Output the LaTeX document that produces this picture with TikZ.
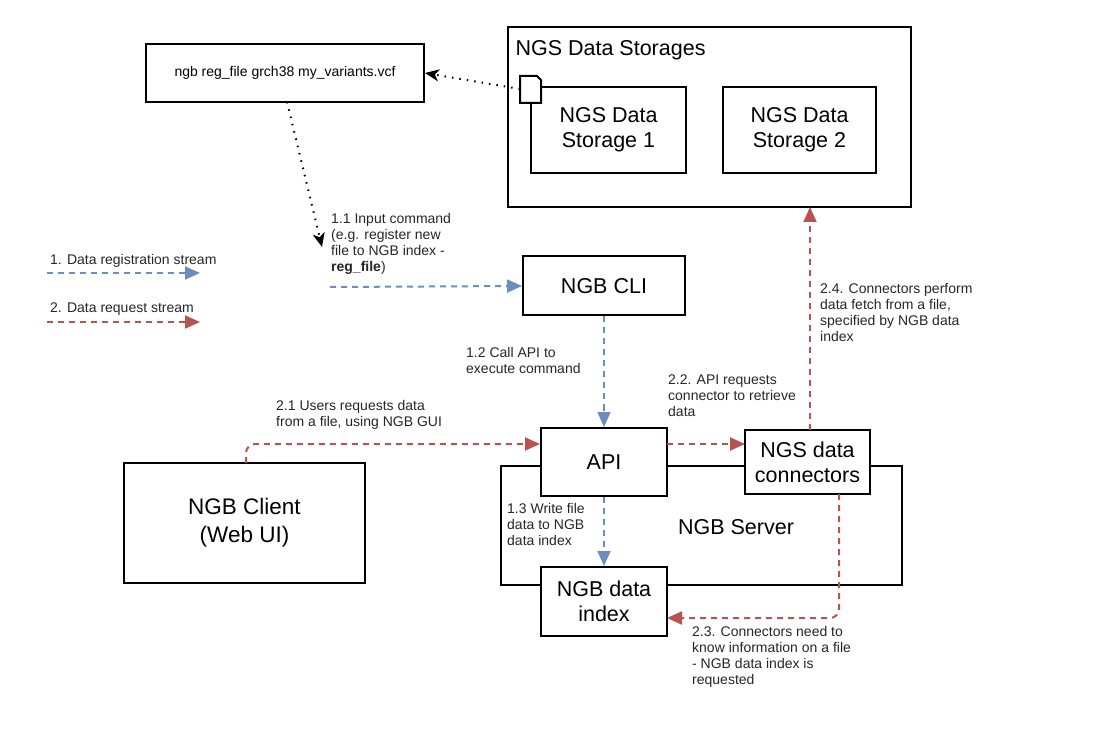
\documentclass[tikz,border=0pt]{standalone}
\usepackage{fontspec}
\setmainfont{Liberation Sans}
\usetikzlibrary{arrows.meta}
\definecolor{bl}{HTML}{6C8EBF}
\definecolor{rd}{HTML}{B85450}
\begin{document}
\begin{tikzpicture}[x=1pt,y=-1pt,
 box/.style={draw,line width=2pt,fill=white,align=center,font=\fontsize{21.5}{25}\selectfont},
 lbl/.style={align=left,font=\fontsize{14}{16}\selectfont,text=black!85,inner sep=0pt},
 bla/.style={bl,line width=2pt,dash pattern=on 6pt off 5pt,-{Triangle[length=15pt,width=13pt]}},
 rda/.style={rd,line width=2pt,dash pattern=on 6pt off 5pt,-{Triangle[length=15pt,width=13pt]}},
 dta/.style={black,line width=2pt,dash pattern=on 1.5pt off 6pt,-{Stealth[length=14pt,width=12pt,inset=4pt]}}]
\useasboundingbox (0,0) rectangle (1109,735);
% server outer
\draw[line width=2pt] (501,466) rectangle (902,585);
\node[font=\fontsize{21.5}{25}\selectfont] (srv) at (736,527) {NGB Server};
% storages
\draw[line width=2pt] (508,27) rectangle (911,207);
\node[anchor=west,font=\fontsize{21.5}{25}\selectfont] (stt) at (512,50) {NGS Data Storages};
\node[box,minimum width=155pt,minimum height=86pt] (s1) at (608.5,130) {NGS Data\\Storage 1};
\node[box,minimum width=153pt,minimum height=86pt] (s2) at (799.5,130) {NGS Data\\Storage 2};
\draw[line width=2pt,fill=white] (520,76) -- (537,76) -- (541,80) -- (541,103) -- (520,103) -- cycle;
\coordinate (fic) at (520,89);
\node[box,minimum width=278pt,minimum height=58pt,font=\fontsize{14}{16}\selectfont] (cmd) at (285,73) {ngb reg\_file grch38 my\_variants.vcf};
\node[box,minimum width=162pt,minimum height=59pt] (cli) at (604,286) {NGB CLI};
\node[box,minimum width=126pt,minimum height=68pt] (api) at (604,462) {API};
\node[box,minimum width=125pt,minimum height=64pt] (con) at (807.5,462) {NGS data\\connectors};
\node[box,minimum width=126pt,minimum height=69pt] (idx) at (604,601.5) {NGB data\\index};
\node[box,minimum width=241pt,minimum height=120pt,font=\fontsize{22.5}{28}\selectfont] (cl) at (244.5,523) {NGB Client\\(Web UI)};
% connectors
\draw[dta] (fic) -- (cmd.east);
\coordinate (c1) at (322,247);
\draw[dta] (287,102) -- (c1);
\coordinate (c2) at (330,287);
\draw[bla] (c2) -- (cli.west);
\draw[bla] (cli.south) -- (api.north);
\draw[bla] (api.south) -- (idx.north);
\draw[rda,rounded corners=9pt] (246,463) -- (246,444) -- (api.west |- 0,444);
\draw[rda] (667,444) -- (745,444);
\draw[rda] (810,430) -- (810,207);
\draw[rda,rounded corners=9pt] (839,494) -- (839,618) -- (667,618);
% legend
\coordinate (l1a) at (47,273); \coordinate (l1b) at (200,273);
\coordinate (l2a) at (47,322); \coordinate (l2b) at (200,322);
\draw[bla] (l1a) -- (l1b);
\draw[rda] (l2a) -- (l2b);
\node[lbl,anchor=south west] (t1) at (50,268) {1. Data registration stream};
\node[lbl,anchor=south west] (t2) at (50,316) {2. Data request stream};
% labels
\node[lbl,anchor=north west] (a) at (331,213) {1.1 Input command\\(e.g. register new\\file to NGB index -\\\textbf{reg\_file})};
\node[lbl,anchor=north west] (b) at (466,347) {1.2 Call API to\\execute command};
\node[lbl,anchor=north west] (c) at (276,400) {2.1 Users requests data\\from a file, using NGB GUI};
\node[lbl,anchor=north west] (d) at (668,375) {2.2. API requests\\connector to retrieve\\data};
\node[lbl,anchor=north west] (e) at (820,283) {2.4. Connectors perform\\data fetch from a file,\\specified by NGB data\\index};
\node[lbl,anchor=north west] (f) at (507,503) {1.3 Write file\\data to NGB\\data index};
\node[lbl,anchor=north west] (g) at (692,626) {2.3. Connectors need to\\know information on a file\\- NGB data index is\\requested};
\end{tikzpicture}
\end{document}
